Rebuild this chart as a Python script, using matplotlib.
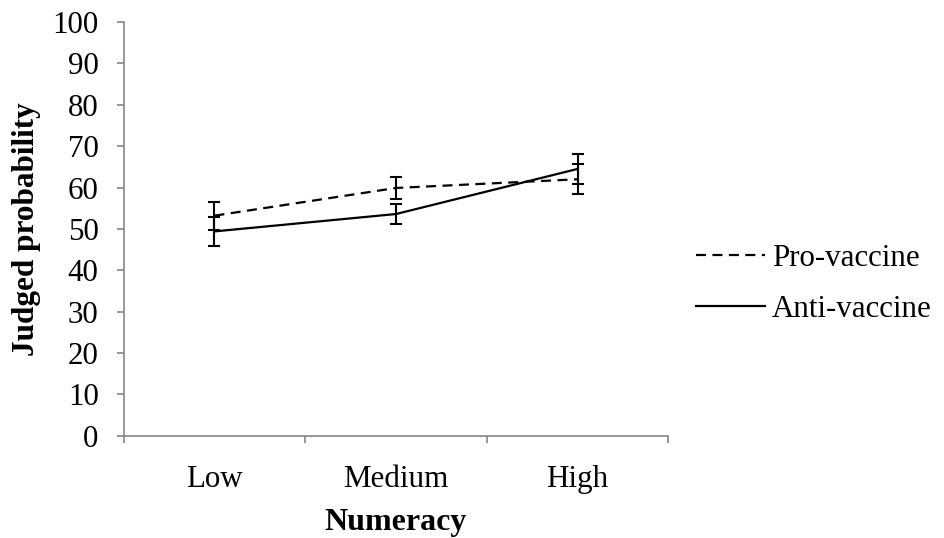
import matplotlib
matplotlib.use("Agg")
import matplotlib.pyplot as plt

categories = ["Low", "Medium", "High"]
pro_vaccine = [53.2, 59.9, 62.0]
pro_err = [3.4, 2.7, 3.6]
anti_vaccine = [49.4, 53.6, 64.5]
anti_err = [3.5, 2.5, 3.7]
yticks = list(range(0, 101, 10))

plt.rcParams['font.family'] = ['Liberation Serif', 'DejaVu Serif']

fig = plt.figure(figsize=(9.44, 5.38), dpi=100)
ax = fig.add_axes([0.131, 0.19, 0.577, 0.769])

x = list(range(len(categories)))
axis_col = "#868686"
fs = 22.3

l1 = ax.errorbar(x, pro_vaccine, yerr=pro_err, color="black", lw=1.6,
                 capsize=4.3, elinewidth=1.5, capthick=1.5, linestyle=(0, (4.5, 2.9)),
                 label="Pro-vaccine")
l2 = ax.errorbar(x, anti_vaccine, yerr=anti_err, color="black", lw=1.6,
                 capsize=4.3, elinewidth=1.5, capthick=1.5, linestyle="-",
                 label="Anti-vaccine")

ax.set_xlim(-0.5, len(categories) - 0.5)
ax.set_ylim(0, 100)
ax.set_yticks(yticks)
ax.set_xticks(x)
ax.set_xticklabels(categories)
ax.set_xticks([i - 0.5 for i in range(len(categories) + 1)], minor=True)
ax.tick_params(axis='x', which='major', length=0, pad=21, labelsize=fs)
ax.tick_params(axis='x', which='minor', length=5, width=1.2, color=axis_col, direction='out')
ax.tick_params(axis='y', which='major', length=5, width=1.2, color=axis_col, direction='out', labelsize=fs, pad=13)

for s in ["top", "right"]:
    ax.spines[s].set_visible(False)
for s in ["left", "bottom"]:
    ax.spines[s].set_color(axis_col)
    ax.spines[s].set_linewidth(1.2)

ax.set_xlabel("Numeracy", fontsize=23, fontweight="bold", labelpad=10)
ax.set_ylabel("Judged probability", fontsize=22.5, fontweight="bold", labelpad=8)

handles = [l1.lines[0], l2.lines[0]]
fig.legend(handles, ["Pro-vaccine", "Anti-vaccine"], loc="center left",
           bbox_to_anchor=(0.737, 0.472), frameon=False, fontsize=fs,
           handlelength=2.25, handletextpad=0.2, labelspacing=0.72,
           borderpad=0, borderaxespad=0)

fig.savefig("out.png", dpi=100)
